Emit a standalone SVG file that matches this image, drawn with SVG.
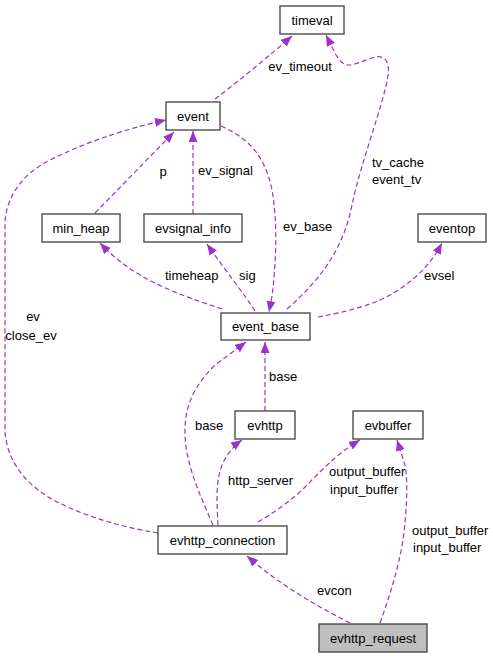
<svg xmlns="http://www.w3.org/2000/svg" width="493" height="659" viewBox="0 0 493 659">
<defs>
<marker id="ah" markerWidth="13" markerHeight="10" refX="11" refY="4.5" orient="auto" markerUnits="userSpaceOnUse">
<path d="M0,0 L11,4.5 L0,9 z" fill="#9a32cd"/>
</marker>
<style>
.n rect{fill:#ffffff;stroke:#404040;stroke-width:1.3}
.n text,.l{font-family:"Liberation Sans",Arial,sans-serif;font-size:13px;fill:#000000}
.n text{text-anchor:middle}
.e path{fill:none;stroke:#9a32cd;stroke-width:1.2;stroke-dasharray:5,3;marker-end:url(#ah)}
</style>
</defs>
<rect width="493" height="659" fill="#ffffff"/>
<g id="edges" class="e">
<path d="M215,99 C240,80 268,57 292,36"/>
<path d="M287,309 C320,280 343,250 352,205 C360,165 385,100 388,75 C390,62 385,55 375,57 C365,60 355,65 349,65 C343,65 340,61 336,55 L326,35"/>
<path d="M95,213 L174,132"/>
<path d="M193,214 L193,131"/>
<path d="M221,126 C248,138 265,155 272,190 C278,225 276,265 272,296 L269,312"/>
<path d="M222,309 C195,300 165,290 140,275 C125,266 112,256 100,243"/>
<path d="M255,311 C245,295 225,270 207,244"/>
<path d="M318,317 C345,312 375,305 395,292 C418,278 432,262 442,243"/>
<path d="M265,411 L265,342"/>
<path d="M213,525 C200,495 186,465 185,435 C184,405 195,385 215,365 L246,342"/>
<path d="M218,525 C217,505 215,480 223,463 C228,452 235,445 242,440"/>
<path d="M258,522 C275,512 292,500 305,487 C320,472 335,455 360,440"/>
<path d="M380,623 C390,595 398,570 403,540 C407,510 408,480 405,465 L397,440"/>
<path d="M350,623 C315,605 280,585 247,556"/>
<path d="M158,533 C120,527 80,515 50,498 C25,483 8,462 5,433 L5,225 C5,200 20,175 50,160 C80,145 120,130 166,120"/>
</g>
<g id="edge-labels">
<text class="l" x="300" y="71" text-anchor="middle">ev_timeout</text>
<text class="l" x="372" y="167">tv_cache</text>
<text class="l" x="372" y="184">event_tv</text>
<text class="l" x="163" y="176" text-anchor="middle">p</text>
<text class="l" x="198" y="175">ev_signal</text>
<text class="l" x="283" y="231">ev_base</text>
<text class="l" x="165" y="279.5">timeheap</text>
<text class="l" x="239" y="279.5">sig</text>
<text class="l" x="424" y="279.5">evsel</text>
<text class="l" x="33" y="321" text-anchor="middle">ev</text>
<text class="l" x="31" y="339.5" text-anchor="middle">close_ev</text>
<text class="l" x="269" y="381">base</text>
<text class="l" x="195" y="429.5">base</text>
<text class="l" x="228" y="485">http_server</text>
<text class="l" x="329" y="476">output_buffer</text>
<text class="l" x="330" y="493.5">input_buffer</text>
<text class="l" x="412" y="535">output_buffer</text>
<text class="l" x="413" y="552">input_buffer</text>
<text class="l" x="317" y="594.5">evcon</text>
</g>
<g id="timeval" class="n"><rect x="280" y="6" width="64" height="28"/><text x="312" y="24.5">timeval</text></g>
<g id="event" class="n"><rect x="166" y="102" width="54" height="28"/><text x="193" y="120.5">event</text></g>
<g id="min_heap" class="n"><rect x="42" y="214" width="78" height="28"/><text x="81" y="232.5">min_heap</text></g>
<g id="evsignal_info" class="n"><rect x="144" y="214" width="98" height="28"/><text x="193" y="232.5">evsignal_info</text></g>
<g id="eventop" class="n"><rect x="418" y="214" width="68" height="28"/><text x="452" y="232.5">eventop</text></g>
<g id="event_base" class="n"><rect x="221" y="313" width="89" height="27"/><text x="265.5" y="331">event_base</text></g>
<g id="evhttp" class="n"><rect x="235" y="411" width="60" height="28"/><text x="265" y="429.5">evhttp</text></g>
<g id="evbuffer" class="n"><rect x="353" y="411" width="70" height="28"/><text x="388" y="429.5">evbuffer</text></g>
<g id="evhttp_connection" class="n"><rect x="158" y="526" width="129" height="28"/><text x="222.5" y="544.5">evhttp_connection</text></g>
<g id="evhttp_request" class="n"><rect x="319" y="624" width="108" height="28" style="fill:#bfbfbf"/><text x="373" y="642.5">evhttp_request</text></g>
</svg>
